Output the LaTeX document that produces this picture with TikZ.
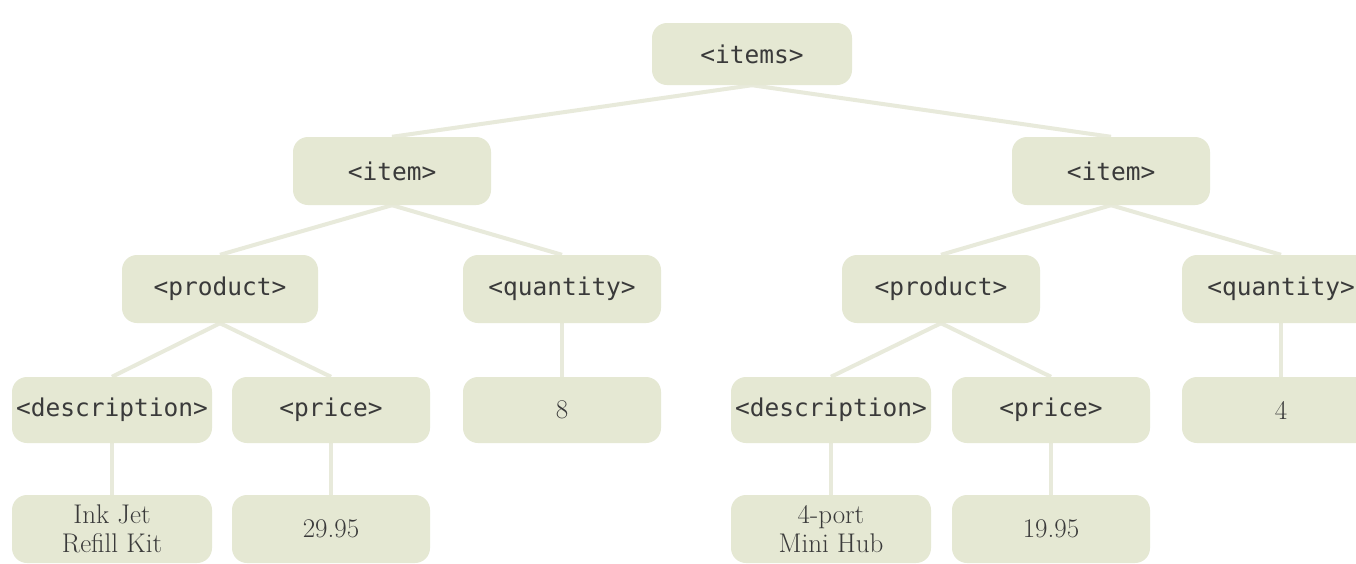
\documentclass[tikz,border=0pt]{standalone}
\usepackage{fontspec}
\newfontfamily\tagfont{DejaVu Sans Mono}
\usetikzlibrary{backgrounds}
\definecolor{boxfill}{RGB}{229,232,211}
\definecolor{linkcol}{RGB}{232,234,219}
\definecolor{txt}{RGB}{58,58,58}
\tikzset{
  tagbox/.style={fill=boxfill, rounded corners=15pt, inner sep=0pt, minimum width=198pt, minimum height=67pt, text=txt, font=\tagfont\fontsize{24.5}{28}\selectfont},
  valbox/.style={fill=boxfill, rounded corners=15pt, inner sep=0pt, minimum width=198pt, minimum height=67pt, text=txt, align=center, font=\fontsize{27}{29}\selectfont},
  link/.style={draw=linkcol, line width=4pt}
}
\begin{document}
\begin{tikzpicture}[x=1pt,y=-1pt]
\clip (0,0) rectangle (1356,563);
% row 1
\node[tagbox, minimum width=200pt, minimum height=62pt] (items) at (752,54) {<items>};
% row 2
\node[tagbox, minimum height=68pt] (itemL) at (392,171) {<item>};
\node[tagbox, minimum height=68pt] (itemR) at (1111,171) {<item>};
% row 3
\node[tagbox, minimum height=68pt, minimum width=196pt] (prodL) at (220,289) {<product>};
\node[tagbox, minimum height=68pt] (qtyL) at (562,289) {<quantity>};
\node[tagbox, minimum height=68pt] (prodR) at (941,289) {<product>};
\node[tagbox, minimum height=68pt] (qtyR) at (1281,289) {<quantity>};
% row 4
\node[tagbox, minimum width=200pt, minimum height=66pt] (descL) at (112,410) {<description>};
\node[tagbox, minimum height=66pt] (priceL) at (331,410) {<price>};
\node[valbox, minimum height=66pt] (eight) at (562,410) {8};
\node[tagbox, minimum width=200pt, minimum height=66pt] (descR) at (831,410) {<description>};
\node[tagbox, minimum height=66pt] (priceR) at (1051,410) {<price>};
\node[valbox, minimum height=66pt] (four) at (1281,410) {4};
% row 5
\node[valbox, minimum width=200pt, minimum height=68pt] (inkjet) at (112,529) {Ink Jet\\Refill Kit};
\node[valbox, minimum height=68pt] (pL) at (331,529) {29.95};
\node[valbox, minimum width=200pt, minimum height=68pt] (hub) at (831,529) {4-port\\Mini Hub};
\node[valbox, minimum height=68pt] (pR) at (1051,529) {19.95};
\begin{pgfonlayer}{background}
\fill[white] (0,0) rectangle (1356,563);
\draw[link] (items.south) -- (itemL.north);
\draw[link] (items.south) -- (itemR.north);
\draw[link] (itemL.south) -- (prodL.north);
\draw[link] (itemL.south) -- (qtyL.north);
\draw[link] (itemR.south) -- (prodR.north);
\draw[link] (itemR.south) -- (qtyR.north);
\draw[link] (prodL.south) -- (descL.north);
\draw[link] (prodL.south) -- (priceL.north);
\draw[link] (prodR.south) -- (descR.north);
\draw[link] (prodR.south) -- (priceR.north);
\draw[link] (qtyL.south) -- (eight.north);
\draw[link] (qtyR.south) -- (four.north);
\draw[link] (descL.south) -- (inkjet.north);
\draw[link] (priceL.south) -- (pL.north);
\draw[link] (descR.south) -- (hub.north);
\draw[link] (priceR.south) -- (pR.north);
\end{pgfonlayer}
\end{tikzpicture}
\end{document}
